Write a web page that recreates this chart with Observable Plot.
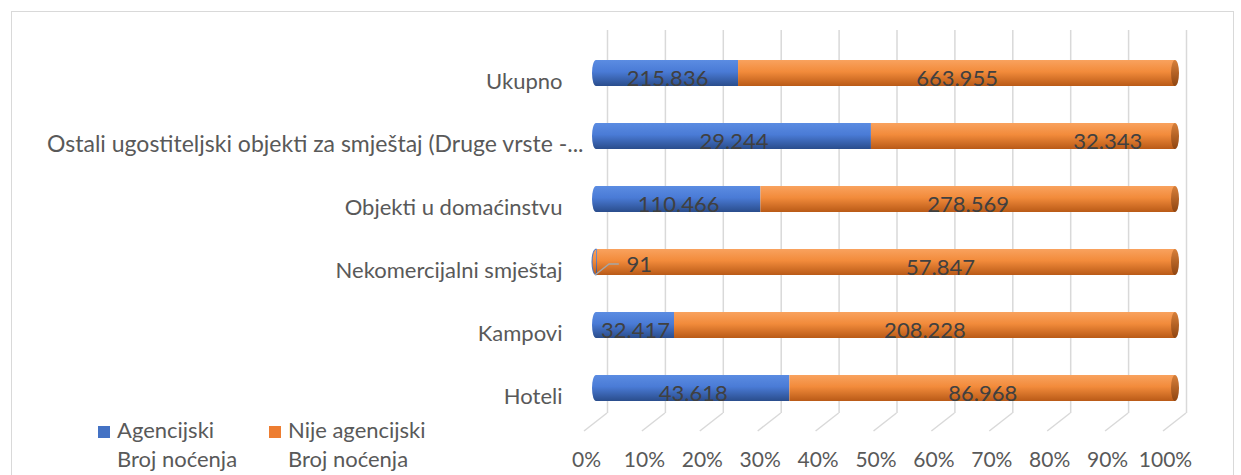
<!DOCTYPE html>
<html><head><meta charset="utf-8">
<script src="https://cdn.jsdelivr.net/npm/d3@7"></script>
<script src="https://cdn.jsdelivr.net/npm/@observablehq/plot@0.6"></script>
<style>
body{margin:0;background:#fff;}
#wrap{position:relative;width:1241px;height:475px;overflow:hidden;font-family:Lato, sans-serif;}
#frame{position:absolute;left:11px;top:11px;width:1223px;height:500px;border:1.5px solid #d9d9d9;box-sizing:border-box;}
#chart{position:absolute;left:0;top:0;}
.leg{position:absolute;font-size:22px;color:#595959;line-height:22px;white-space:nowrap;}
.sw{position:absolute;width:12px;height:12px;}
</style></head><body>
<svg width="0" height="0" style="position:absolute">
<defs>
<linearGradient id="gBlue" x1="0" y1="0" x2="0" y2="1">
<stop offset="0" stop-color="#5b8ce2"/><stop offset="0.45" stop-color="#4a7bd6"/><stop offset="1" stop-color="#2a4d8c"/>
</linearGradient>
<linearGradient id="gOrange" x1="0" y1="0" x2="0" y2="1">
<stop offset="0" stop-color="#f9a25e"/><stop offset="0.45" stop-color="#f28b3b"/><stop offset="1" stop-color="#b95a17"/>
</linearGradient>
<linearGradient id="gOrangeCap" x1="0" y1="0" x2="0" y2="1">
<stop offset="0" stop-color="#d8803a"/><stop offset="1" stop-color="#8f4511"/>
</linearGradient>
</defs></svg>
<div id="wrap"><div id="frame"></div><div id="chart"></div><div id="legend"></div></div>
<script>
// ---- data ----
const categories = [
  "Ukupno",
  "Ostali ugostiteljski objekti za smještaj (Druge vrste -...",
  "Objekti u domaćinstvu",
  "Nekomercijalni smještaj",
  "Kampovi",
  "Hoteli"
];
const seriesNames = ["Agencijski", "Nije agencijski"];
const seriesSub = "Broj noćenja";
const agencijski = [215836, 29244, 110466, 91, 32417, 43618];
const nijeAgencijski = [663955, 32343, 278569, 57847, 208228, 86968];
const ticks = [0, 0.1, 0.2, 0.3, 0.4, 0.5, 0.6, 0.7, 0.8, 0.9, 1];
const tickLabels = ["0%", "10%", "20%", "30%", "40%", "50%", "60%", "70%", "80%", "90%", "100%"];

// ---- styling / label placement ----
const legendColors = ["#4472c4", "#ed7d31"];
// labels that were moved by hand in the original (fraction of the 0–100% axis)
const labelAt = {
  "Ostali ugostiteljski objekti za smještaj (Druge vrste -...|Nije agencijski": 0.883,
  "Nekomercijalni smještaj|Nije agencijski": 0.594,
  "Nekomercijalni smještaj|Agencijski": 0.074
};
const calloutKey = "Nekomercijalni smještaj|Agencijski";

const fmt = d3.formatLocale({decimal: ",", thousands: ".", grouping: [3], currency: ["", ""]}).format(",d");

const rows = categories.flatMap((c, i) => {
  const tot = agencijski[i] + nijeAgencijski[i];
  const a = agencijski[i] / tot;
  return [
    {cat: c, series: seriesNames[0], value: agencijski[i], x1: 0, x2: a},
    {cat: c, series: seriesNames[1], value: nijeAgencijski[i], x1: a, x2: 1}
  ];
});
const key = d => d.cat + "|" + d.series;
const share = new Map(categories.map((c, i) => [c, agencijski[i] / (agencijski[i] + nijeAgencijski[i])]));
const labelX = d => labelAt[key(d)] ?? (d.x1 + d.x2) / 2;
const longCat = categories.filter(c => c.length > 40);
const shortCat = categories.filter(c => c.length <= 40);

const chart = Plot.plot({
  width: 1241, height: 475,
  marginLeft: 596, marginRight: 66, marginTop: 39, marginBottom: 53,
  style: {fontFamily: "Lato, sans-serif", background: "transparent", overflow: "visible"},
  x: {domain: [0, 1], axis: null},
  y: {domain: categories, axis: null, paddingInner: 0.59, paddingOuter: 0.295},
  marks: [
    Plot.ruleX(ticks, {x: d => d, dx: 11, stroke: "#d9d9d9", strokeWidth: 1.5, insetTop: -9, insetBottom: 9}),
    Plot.barX(categories.filter(c => share.get(c) >= 0.01), {x1: 0, x2: 0, y: d => d, insetLeft: -4, insetRight: -4, rx: 4, ry: 13, fill: "url(#gBlue)"}),
    Plot.barX(categories.filter(c => share.get(c) < 0.01), {x1: 0, x2: 0, y: d => d, insetLeft: -4, insetRight: -4, rx: 4, ry: 13, fill: "url(#gOrange)", stroke: "#4472c4", strokeWidth: 1}),
    Plot.barX(rows.filter(d => d.series === seriesNames[0]), {x1: "x1", x2: "x2", y: "cat", fill: "url(#gBlue)"}),
    Plot.barX(rows.filter(d => d.series === seriesNames[1]), {x1: "x1", x2: "x2", y: "cat", fill: "url(#gOrange)"}),
    Plot.barX(categories, {x1: 1, x2: 1, y: d => d, insetLeft: -4, insetRight: -4, rx: 4, ry: 13, fill: "url(#gOrangeCap)"}),
    Plot.text(shortCat, {x: 0, y: d => d, text: d => d, textAnchor: "end", dx: -34, dy: 8, fill: "#595959", fontSize: 22}),
    Plot.text(longCat, {x: 0, y: d => d, text: d => d, textAnchor: "end", dx: -13, dy: 8, fill: "#595959", fontSize: 23}),
    Plot.text(rows.filter(d => key(d) !== calloutKey), {x: labelX, y: "cat", text: d => fmt(d.value), dy: 5, fill: "#404040", fontSize: 22}),
    Plot.text(rows.filter(d => key(d) === calloutKey), {x: labelX, y: "cat", text: d => fmt(d.value), dy: 2, fill: "#404040", fontSize: 22}),
    Plot.text(ticks, {x: d => d, frameAnchor: "bottom", lineAnchor: "middle", text: (d, i) => tickLabels[i], dx: -10, dy: 38, fill: "#595959", fontSize: 21})
  ]
});
document.getElementById("chart").appendChild(chart);

// 3D floor diagonals and the callout leader line, positioned with the chart's own scales
const sx = chart.scale("x"), sy = chart.scale("y");
const X = sx.apply ? (v => sx.apply(v)) : d3.scaleLinear(sx.domain, sx.range);
const Y = sy.apply ? (v => sy.apply(v)) : d3.scaleBand(sy.domain, sy.range).paddingInner(0.59).paddingOuter(0.295);
const bw = sy.bandwidth ?? 26;
const svg = d3.select(chart);
const g = svg.insert("g", ":first-child");
const wallBottom = 475 - 53 - 9;
g.selectAll("line").data(ticks).join("line")
  .attr("x1", d => X(d) + 11).attr("y1", wallBottom)
  .attr("x2", d => X(d) - 12).attr("y2", wallBottom + 18)
  .attr("stroke", "#d9d9d9").attr("stroke-width", 1.5);
rows.filter(d => key(d) === calloutKey).forEach(d => {
  const yc = Y(d.cat) + bw / 2;
  svg.append("polyline")
    .attr("points", [[X(0) - 1, yc + 13], [X(0) + 13, yc + 2], [X(labelX(d)) - 20, yc + 2]].map(p => p.join(",")).join(" "))
    .attr("fill", "none").attr("stroke", "#a6a6a6").attr("stroke-width", 1.5);
});

// legend (HTML, two series)
const leg = document.getElementById("legend");
const legX = [98, 269];
seriesNames.forEach((s, i) => {
  const sw = document.createElement("div");
  sw.className = "sw"; sw.style.left = legX[i] + "px"; sw.style.top = "426px"; sw.style.background = legendColors[i];
  leg.appendChild(sw);
  const t1 = document.createElement("div");
  t1.className = "leg"; t1.style.left = (legX[i] + 19) + "px"; t1.style.top = "419px"; t1.textContent = s;
  leg.appendChild(t1);
  const t2 = document.createElement("div");
  t2.className = "leg"; t2.style.left = (legX[i] + 19) + "px"; t2.style.top = "448px"; t2.textContent = seriesSub;
  leg.appendChild(t2);
});
</script>
</body></html>
